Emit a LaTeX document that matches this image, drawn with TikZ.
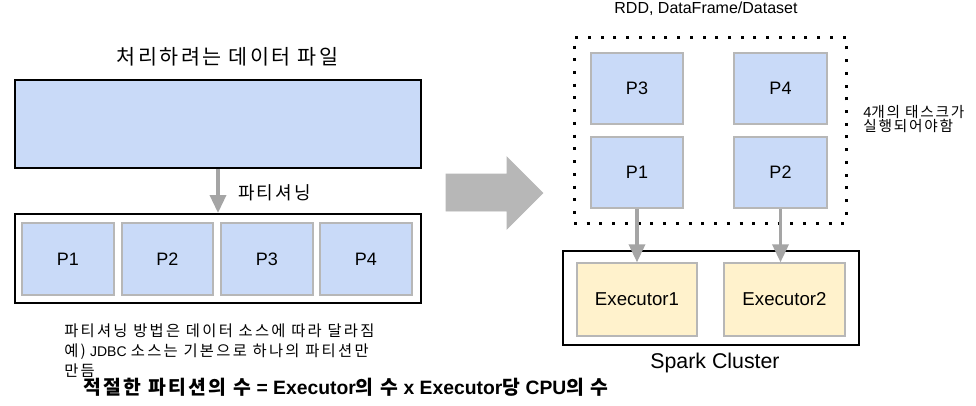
\documentclass[tikz,border=0pt]{standalone}
\usepackage{fontspec}
\setmainfont{Liberation Sans}
\newfontfamily\kr[LetterSpace=12]{Noto Sans CJK KR}
\newfontfamily\krv[LetterSpace=15]{Noto Sans CJK KR}
\usetikzlibrary{arrows.meta}
\definecolor{pblue}{HTML}{C9DAF8}
\definecolor{pyellow}{HTML}{FFF2CC}
\definecolor{boxgray}{HTML}{B7B7B7}
\definecolor{arrgray}{HTML}{A5A5A5}
\definecolor{bigarr}{HTML}{B7B7B7}
\tikzset{
  wh/.style 2 args={minimum width=#1*0.75pt, minimum height=#2*0.75pt},
  frame/.style={draw=black, line width=1.5pt, inner sep=0pt},
  bigbox/.style={frame, fill=pblue},
  pbox/.style={draw=boxgray, line width=1pt, fill=pblue, inner sep=0pt, font=\fontsize{13.5}{16}\selectfont},
  exbox/.style={draw=boxgray, line width=1pt, fill=pyellow, inner sep=0pt, font=\fontsize{14}{17}\selectfont},
  dotbox/.style={draw=black, line width=2.25pt, dash pattern=on 2.25pt off 7.3pt, inner sep=0pt},
  conn/.style={draw=arrgray, line width=2.6pt, -{Triangle[length=13.5pt,width=12pt]}},
  bigarrow/.style={fill=bigarr, draw=bigarr, line width=0.5pt},
  txt/.style={inner sep=0pt, text=black}
}
\begin{document}
\begin{tikzpicture}[x=0.75pt,y=-0.75pt]
\useasboundingbox[fill=white] (0,0) rectangle (976,405);
% left part
\node[txt, font=\fontsize{15.5}{18}\selectfont\kr] (ttl) at (227.5,57) {처리하려는 데이터 파일};
\node[bigbox, wh={406}{88}] (file) at (218,124) {};
\node[frame, wh={406}{89}] (parts) at (218,258.5) {};
\node[pbox, wh={92}{72}] (lp1) at (68,259) {P1};
\node[pbox, wh={91}{72}] (lp2) at (167.5,259) {P2};
\node[pbox, wh={92}{72}] (lp3) at (267,259) {P3};
\node[pbox, wh={92}{72}] (lp4) at (366,259) {P4};
\draw[conn] (file.south) -- (parts.north);
\node[txt, anchor=west, font=\fontsize{13.5}{16}\selectfont\kr] (plbl) at (238,193) {파티셔닝};
\node[txt, anchor=north west, align=left, font=\fontsize{11.5}{13.1}\selectfont] (note) at (64,324)
  {{\krv 파티셔닝 방법은 데이터 소스에 따라 달라짐}\\[1.8pt]
   {\krv 예)} {\fontsize{10.5}{13.1}\selectfont JDBC} {\krv 소스는 기본으로 하나의 파티션만}\\[1.8pt]
   {\krv 만듬}};
\node[txt, anchor=west, font=\fontsize{14.5}{17}\selectfont\bfseries] (rule) at (83.5,387.5)
  {{\kr 적절한 파티션의 수} = Executor{\kr 의 수} x Executor{\kr 당} CPU{\kr 의 수}};
% big arrow
\fill[bigarrow] (446,174) -- (507,174) -- (507,157) -- (543,193) -- (507,229) -- (507,211) -- (446,211) -- cycle;
% right part
\node[txt, font=\fontsize{12}{14}\selectfont] (rddlbl) at (706,8.5) {RDD, DataFrame/Dataset};
\node[dotbox, wh={272}{186}] (rdd) at (710,130) {};
\node[pbox, wh={92}{71}] (rp3) at (637,88.5) {P3};
\node[pbox, wh={93}{71}] (rp4) at (780.5,88.5) {P4};
\node[pbox, wh={92}{71}] (rp1) at (637,172.5) {P1};
\node[pbox, wh={93}{71}] (rp2) at (780.5,172.5) {P2};
\node[txt, anchor=west, align=left, font=\fontsize{11}{10.5}\selectfont] (tasks) at (863,119)
  {4{\kr 개의 태스크가}\\{\kr 실행되어야함}};
\node[frame, wh={296}{94}] (cluster) at (711,298) {};
\node[exbox, wh={120}{73}] (ex1) at (637,299.5) {Executor1};
\node[exbox, wh={121}{73}] (ex2) at (784.5,299.5) {Executor2};
\node[txt, font=\fontsize{16}{19}\selectfont] (sparklbl) at (715,363) {Spark Cluster};
\draw[conn] (rp1.south) -- (rp1.south |- ex1.north);
\draw[conn] (rp2.south) -- (rp2.south |- ex2.north);
\end{tikzpicture}
\end{document}
